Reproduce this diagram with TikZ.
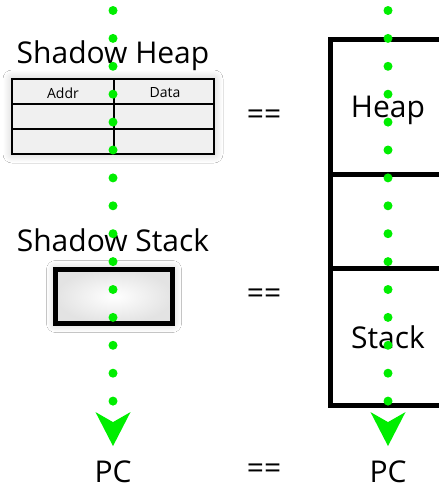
\documentclass[tikz,border=0pt]{standalone}
\usepackage{fontspec}
\setmainfont{Open Sans}
\usetikzlibrary{arrows.meta,shadows.blur}
\definecolor{dotgreen}{RGB}{0,238,0}
\tikzset{
  big/.style={font=\fontsize{30}{32}\selectfont, inner sep=0pt},
  small/.style={font=\fontsize{14}{16}\selectfont, inner sep=0pt},
  membox/.style={draw=black, line width=5pt, minimum width=116, text depth=0pt, inner sep=0pt, font=\fontsize{30}{32}\selectfont},
  dotline/.style={draw=dotgreen, line width=9pt, line cap=round, dash pattern=on 0pt off 27.9pt,
    -{Stealth[length=34pt, width=35pt, inset=10pt, line width=0pt, fill=dotgreen]}, shorten >=14pt},
  softshadow/.style={blur shadow={shadow xshift=0pt, shadow yshift=0pt, shadow blur radius=9pt, shadow opacity=22, shadow blur steps=14}}
}
\begin{document}
\begin{tikzpicture}[x=1pt,y=-1pt]
    \clip (0,0) rectangle (439,490);
    \fill[white] (0,0) rectangle (439,490);

    % left side: shadow state
    \node[big, anchor=base] (shheap) at (113,63) {Shadow Heap};
    \node[draw, line width=1.2pt, fill=gray!12, softshadow, minimum width=202, minimum height=75] (tab) at (113,116.5) {};
    \draw[line width=1.2pt] (tab.west |- 0,104) -- (tab.east |- 0,104)
                            (tab.west |- 0,129) -- (tab.east |- 0,129)
                            (tab.north -| 114,0) -- (tab.south -| 114,0);
    \node[small] (addr) at (63,93) {Addr};
    \node[small] (data) at (165,93) {Data};

    \node[big, anchor=base] (shstack) at (113,251) {Shadow Stack};
    \node[draw, line width=5pt, softshadow, inner color=white, outer color=gray!22, minimum width=117, minimum height=54] (sbox) at (114,296.5) {};

    % right side: real state
    \node[membox, minimum height=134.5] (heap) at (388,106.75) {Heap};
    \node[membox, minimum height=94] (mid) at (388,221) {};
    \node[membox, minimum height=137.5] (stack) at (388,336.75) {Stack};

    \node[big] (eq1) at (264,117) {==};
    \node[big] (eq2) at (264,296) {==};
    \node[big, anchor=base] (eq3) at (264,478) {==};

    \node[big, anchor=base] (pcl) at (113,482) {PC};
    \node[big, anchor=base] (pcr) at (388,482) {PC};

    % control flow
    \coordinate (topl) at (113,10.5);
    \coordinate (topr) at (388,10.5);
    \draw[dotline] (topl) -- (pcl);
    \draw[dotline] (topr) -- (pcr);
\end{tikzpicture}
\end{document}
